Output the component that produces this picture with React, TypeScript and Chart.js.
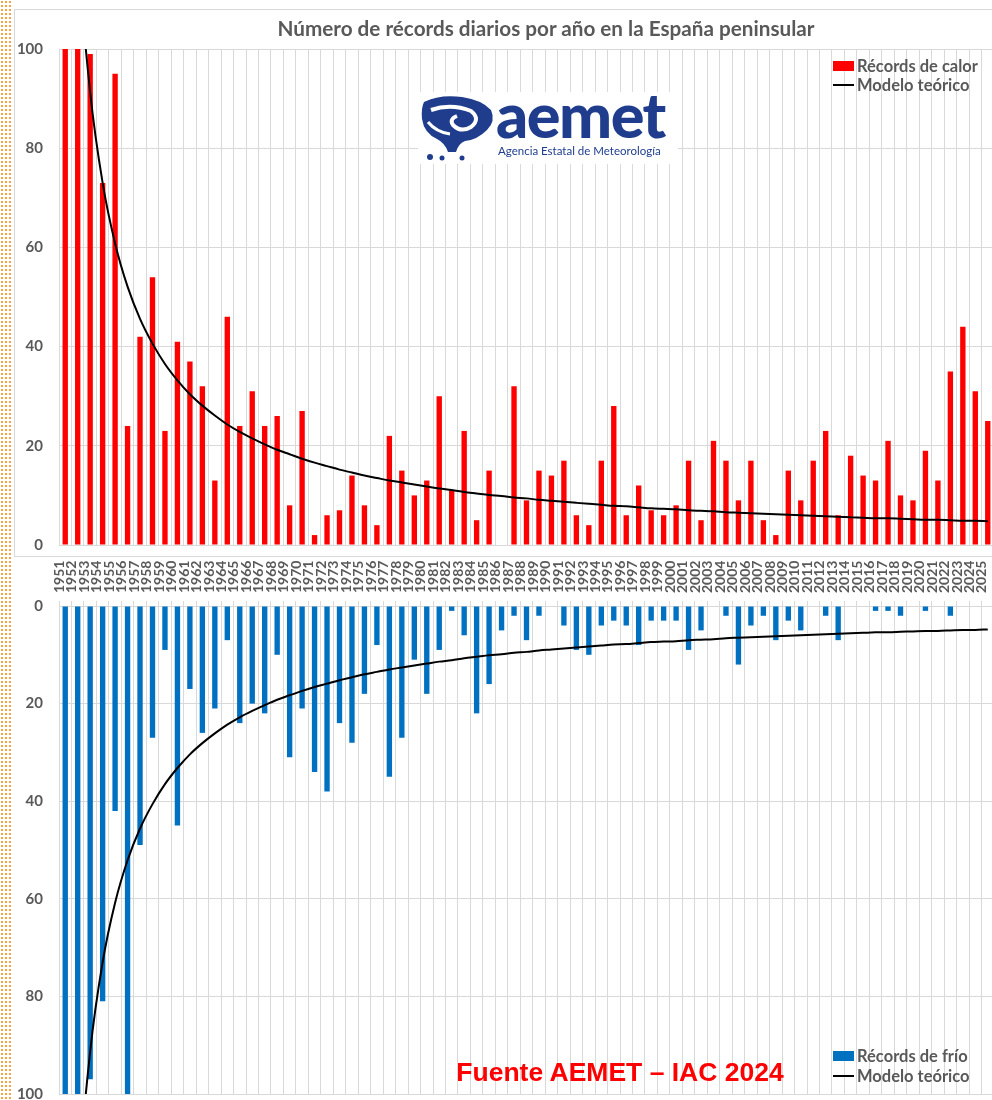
import React, { useEffect, useRef } from "react";
import { Chart, registerables } from "chart.js";

Chart.register(...registerables);

const years = [
  "1951", "1952", "1953", "1954", "1955", "1956", "1957", "1958", "1959", "1960",
  "1961", "1962", "1963", "1964", "1965", "1966", "1967", "1968", "1969", "1970",
  "1971", "1972", "1973", "1974", "1975", "1976", "1977", "1978", "1979", "1980",
  "1981", "1982", "1983", "1984", "1985", "1986", "1987", "1988", "1989", "1990",
  "1991", "1992", "1993", "1994", "1995", "1996", "1997", "1998", "1999", "2000",
  "2001", "2002", "2003", "2004", "2005", "2006", "2007", "2008", "2009", "2010",
  "2011", "2012", "2013", "2014", "2015", "2016", "2017", "2018", "2019", "2020",
  "2021", "2022", "2023", "2024", "2025",
];

const heatRecords = [
  100, 100, 99, 73, 95, 24, 42, 54, 23, 41,
  37, 32, 13, 46, 24, 31, 24, 26, 8, 27,
  2, 6, 7, 14, 8, 4, 22, 15, 10, 13,
  30, 11, 23, 5, 15, 0, 32, 9, 15, 14,
  17, 6, 4, 17, 28, 6, 12, 7, 6, 8,
  17, 5, 21, 17, 9, 17, 5, 2, 15, 9,
  17, 23, 6, 18, 14, 13, 21, 10, 9, 19,
  13, 35, 44, 31, 25,
];

const coldRecords = [
  100, 100, 97, 81, 42, 100, 49, 27, 9, 45,
  17, 26, 21, 7, 24, 20, 22, 10, 31, 21,
  34, 38, 24, 28, 18, 8, 35, 27, 11, 18,
  9, 1, 6, 22, 16, 5, 2, 7, 2, 0,
  4, 9, 10, 4, 3, 4, 8, 3, 3, 3,
  9, 5, 0, 2, 12, 4, 2, 7, 3, 5,
  0, 2, 7, 0, 0, 1, 1, 2, 0, 1,
  0, 2, 0, 0, 0,
];

const theoreticalModel = [
  182.5, 121.7, 91.3, 73.0, 60.8, 52.1, 45.6, 40.6, 36.5, 33.2,
  30.4, 28.1, 26.1, 24.3, 22.8, 21.5, 20.3, 19.2, 18.3, 17.4,
  16.6, 15.9, 15.2, 14.6, 14.0, 13.5, 13.0, 12.6, 12.2, 11.8,
  11.4, 11.1, 10.7, 10.4, 10.1, 9.9, 9.6, 9.4, 9.1, 8.9,
  8.7, 8.5, 8.3, 8.1, 7.9, 7.8, 7.6, 7.4, 7.3, 7.2,
  7.0, 6.9, 6.8, 6.6, 6.5, 6.4, 6.3, 6.2, 6.1, 6.0,
  5.9, 5.8, 5.7, 5.6, 5.5, 5.4, 5.4, 5.3, 5.2, 5.1,
  5.1, 5.0, 4.9, 4.9, 4.8,
];

const yTicks = [0, 20, 40, 60, 80, 100];

const GRID = "#d9d9d9";
const TEXT = "#595959";
const FONT = "Lato, 'Noto Sans', sans-serif";

function yAxis(reverse: boolean) {
  return {
    min: 0,
    max: 100,
    reverse,
    afterBuildTicks: (s: any) => {
      s.ticks = yTicks.map((v) => ({ value: v }));
    },
    ticks: { color: TEXT, font: { family: FONT, size: 15, weight: "bold" as const }, padding: 16 },
    grid: { color: GRID, drawTicks: false },
    border: { display: false },
    afterFit: (s: any) => {
      s.width = 59;
      s.paddingTop = 0;
      s.paddingBottom = 0;
    },
  };
}

function modelDataset() {
  return {
    type: "line",
    label: "Modelo teórico",
    data: theoreticalModel,
    borderColor: "#000000",
    borderWidth: 2,
    pointRadius: 0,
    cubicInterpolationMode: "monotone",
    order: 0,
  } as any;
}

export default function App() {
  const topRef = useRef<HTMLCanvasElement | null>(null);
  const botRef = useRef<HTMLCanvasElement | null>(null);

  useEffect(() => {
    const top = new Chart(topRef.current!, {
      type: "bar",
      data: {
        labels: years,
        datasets: [
          modelDataset(),
          {
            type: "bar",
            label: "Récords de calor",
            data: heatRecords,
            backgroundColor: "#ff0000",
            barPercentage: 0.43,
            categoryPercentage: 1,
            order: 1,
          },
        ],
      },
      options: {
        animation: false,
        responsive: false,
        maintainAspectRatio: false,
        layout: { padding: { top: 49, bottom: 11, left: 0, right: 6 } },
        plugins: { legend: { display: false }, tooltip: { enabled: false } },
        scales: {
          x: {
            grid: { color: GRID, offset: true, drawTicks: false },
            ticks: { display: false },
            border: { display: false },
            afterFit: (s: any) => {
              s.height = 0;
              s.paddingLeft = 0;
              s.paddingRight = 0;
            },
          },
          y: yAxis(false) as any,
        },
      },
    });

    const bot = new Chart(botRef.current!, {
      type: "bar",
      data: {
        labels: years,
        datasets: [
          modelDataset(),
          {
            type: "bar",
            label: "Récords de frío",
            data: coldRecords,
            backgroundColor: "#0070c0",
            barPercentage: 0.43,
            categoryPercentage: 1,
            order: 1,
          },
        ],
      },
      options: {
        animation: false,
        responsive: false,
        maintainAspectRatio: false,
        layout: { padding: { top: 0, bottom: 6, left: 0, right: 6 } },
        plugins: { legend: { display: false }, tooltip: { enabled: false } },
        scales: {
          x: {
            position: "top",
            grid: { color: GRID, offset: true, tickLength: 5 },
            ticks: {
              color: TEXT,
              font: { family: FONT, size: 14, weight: "bold" },
              minRotation: 90,
              maxRotation: 90,
              autoSkip: false,
              padding: 8,
              labelOffset: 11,
            },
            border: { display: false },
            afterFit: (s: any) => {
              s.height = 50;
              s.paddingLeft = 0;
              s.paddingRight = 0;
            },
          },
          y: yAxis(true) as any,
        },
      },
    });

    return () => {
      top.destroy();
      bot.destroy();
    };
  }, []);

  const legendText: React.CSSProperties = {
    position: "absolute",
    fontFamily: FONT,
    fontWeight: 700,
    fontSize: 16.5,
    color: TEXT,
    lineHeight: "20px",
    whiteSpace: "nowrap",
  };

  return (
    <div
      style={{
        position: "absolute",
        left: 0,
        top: 0,
        width: 992,
        height: 1100,
        overflow: "hidden",
        background: "#ffffff",
      }}
    >
      <div
        style={{
          position: "absolute",
          left: 0,
          top: 0,
          width: 13,
          height: 1100,
          backgroundImage: "radial-gradient(circle, #f5a53f 1px, transparent 1.3px)",
          backgroundSize: "4px 4px",
        }}
      />
      <div
        style={{
          position: "absolute",
          left: 14,
          top: 9,
          width: 1000,
          height: 546,
          borderTop: `1px solid ${GRID}`,
          borderLeft: `1px solid ${GRID}`,
          borderBottom: `1px solid ${GRID}`,
        }}
      />
      <canvas
        ref={topRef}
        width={1000}
        height={556}
        style={{ position: "absolute", left: 0, top: 0, width: 1000, height: 556 }}
      />
      <canvas
        ref={botRef}
        width={1000}
        height={544}
        style={{ position: "absolute", left: 0, top: 556, width: 1000, height: 544 }}
      />

      <div
        style={{
          position: "absolute",
          left: 546,
          top: 16,
          transform: "translateX(-50%)",
          fontFamily: FONT,
          fontWeight: 700,
          fontSize: 20.7,
          lineHeight: "24px",
          color: TEXT,
          whiteSpace: "nowrap",
        }}
      >
        Número de récords diarios por año en la España peninsular
      </div>

      {/* AEMET logo approximation */}
      <div style={{ position: "absolute", left: 418, top: 92, width: 260, height: 72, background: "#fff" }}>
        <svg width="78" height="70" viewBox="0 0 78 70" style={{ position: "absolute", left: 0, top: 2 }}>
          <path
            d="M6 8 Q22 0 44 3 Q64 6 73 16 Q78 27 69 36 Q59 46 47 47 Q40 50 38 58 L30 58 Q27 49 19 45 Q6 39 4 25 Q3 14 6 8 Z"
            fill="#1f3d8c"
          />
          <path
            d="M13 16 Q33 9 53 17 Q63 25 53 33 Q43 39 35 31 Q31 25 39 22"
            stroke="#ffffff"
            strokeWidth="4"
            fill="none"
          />
          <path d="M10 28 Q18 38 32 40" stroke="#ffffff" strokeWidth="3" fill="none" />
          <circle cx="12" cy="63" r="3" fill="#1f3d8c" />
          <circle cx="24" cy="64" r="2.5" fill="#1f3d8c" />
          <circle cx="44" cy="64" r="2.5" fill="#1f3d8c" />
        </svg>
        <div
          style={{
            position: "absolute",
            left: 78,
            top: -9,
            fontFamily: "Lato, sans-serif",
            fontWeight: 900,
            fontSize: 63,
            lineHeight: "62px",
            color: "#1f3d8c",
            letterSpacing: -1.5,
          }}
        >
          aemet
        </div>
        <div
          style={{
            position: "absolute",
            left: 80,
            top: 52,
            fontFamily: "Lato, sans-serif",
            fontSize: 11.5,
            lineHeight: "14px",
            color: "#1f3d8c",
            whiteSpace: "nowrap",
          }}
        >
          Agencia Estatal de Meteorología
        </div>
      </div>

      {/* top legend */}
      <div style={{ position: "absolute", left: 833, top: 61, width: 21, height: 10, background: "#ff0000" }} />
      <div style={{ ...legendText, left: 857, top: 56 }}>Récords de calor</div>
      <div style={{ position: "absolute", left: 833, top: 84, width: 21, height: 2, background: "#000" }} />
      <div style={{ ...legendText, left: 857, top: 75 }}>Modelo teórico</div>

      {/* bottom legend */}
      <div style={{ position: "absolute", left: 833, top: 1051, width: 21, height: 10, background: "#0070c0" }} />
      <div style={{ ...legendText, left: 857, top: 1046 }}>Récords de frío</div>
      <div style={{ position: "absolute", left: 833, top: 1075, width: 21, height: 2, background: "#000" }} />
      <div style={{ ...legendText, left: 857, top: 1066 }}>Modelo teórico</div>

      <div
        style={{
          position: "absolute",
          left: 620,
          top: 1057,
          transform: "translateX(-50%)",
          fontFamily: "'Liberation Sans', Arial, sans-serif",
          fontWeight: 700,
          fontSize: 26.5,
          lineHeight: "30px",
          color: "#ff0000",
          whiteSpace: "nowrap",
        }}
      >
        Fuente AEMET – IAC 2024
      </div>
    </div>
  );
}
